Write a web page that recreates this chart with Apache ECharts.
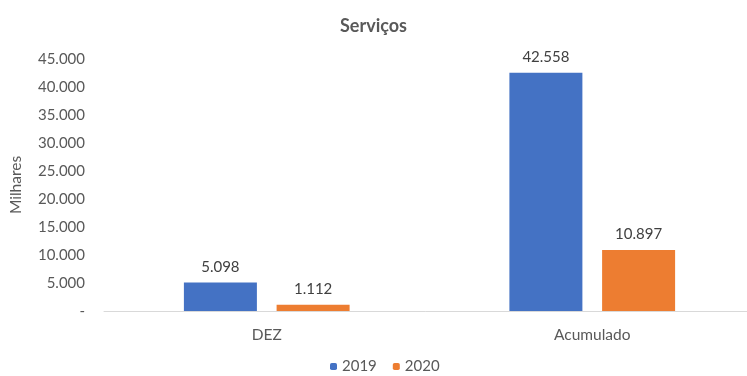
<!DOCTYPE html>
<html>
<head>
<meta charset="utf-8">
<script src="https://cdn.jsdelivr.net/npm/echarts@6/dist/echarts.min.js"></script>
<style>html,body{margin:0;padding:0;background:#fff}#c{width:747px;height:376px}</style>
</head>
<body>
<div id="c"></div>
<script>
const categories = ['DEZ', 'Acumulado'];
const series2019 = [5098, 42558];
const series2020 = [1112, 10897];
const seriesNames = ['2019', '2020'];

function fmt(v) {
  if (v === 0) return '-';
  return String(Math.round(v)).replace(/\B(?=(\d{3})+(?!\d))/g, '.');
}
const FONT = 'Lato';
const chart = echarts.init(document.getElementById('c'));
chart.setOption({
  animation: false,
  textStyle: { fontFamily: FONT },
  title: {
    text: 'Serviços', left: 'center', top: 12,
    textStyle: { fontFamily: FONT, fontSize: 18, fontWeight: 'bold', color: '#595959' }
  },
  legend: {
    bottom: 2, left: 330, itemWidth: 7, itemHeight: 7, itemGap: 16, padding: 0,
    data: seriesNames,
    textStyle: { fontFamily: FONT, fontSize: 15, color: '#595959' }
  },
  grid: { left: 104, right: -8, top: 59, bottom: 65, outerBoundsMode: 'none', containLabel: false },
  xAxis: {
    type: 'category', data: categories,
    axisLine: { lineStyle: { color: '#d9d9d9' } },
    axisTick: { show: false },
    axisLabel: { fontFamily: FONT, fontSize: 15.5, color: '#595959', margin: 16 }
  },
  yAxis: {
    type: 'value', min: 0, max: 45000, interval: 5000,
    name: 'Milhares', nameLocation: 'middle', nameGap: 80, nameRotate: 90,
    nameTextStyle: { fontFamily: FONT, fontSize: 15.5, color: '#595959' },
    splitLine: { show: false },
    axisLine: { show: false }, axisTick: { show: false },
    axisLabel: { formatter: fmt, fontFamily: FONT, fontSize: 15, color: '#595959', margin: 19 }
  },
  series: [
    { name: seriesNames[0], type: 'bar', data: series2019, barWidth: 73, barGap: '27%',
      itemStyle: { color: '#4472C4' },
      label: { show: true, position: 'top', distance: 8, formatter: p => fmt(p.value), fontFamily: FONT, fontSize: 15, color: '#404040' } },
    { name: seriesNames[1], type: 'bar', data: series2020, barWidth: 73,
      itemStyle: { color: '#ED7D31' },
      label: { show: true, position: 'top', distance: 8, formatter: p => fmt(p.value), fontFamily: FONT, fontSize: 15, color: '#404040' } }
  ]
});
</script>
</body>
</html>
